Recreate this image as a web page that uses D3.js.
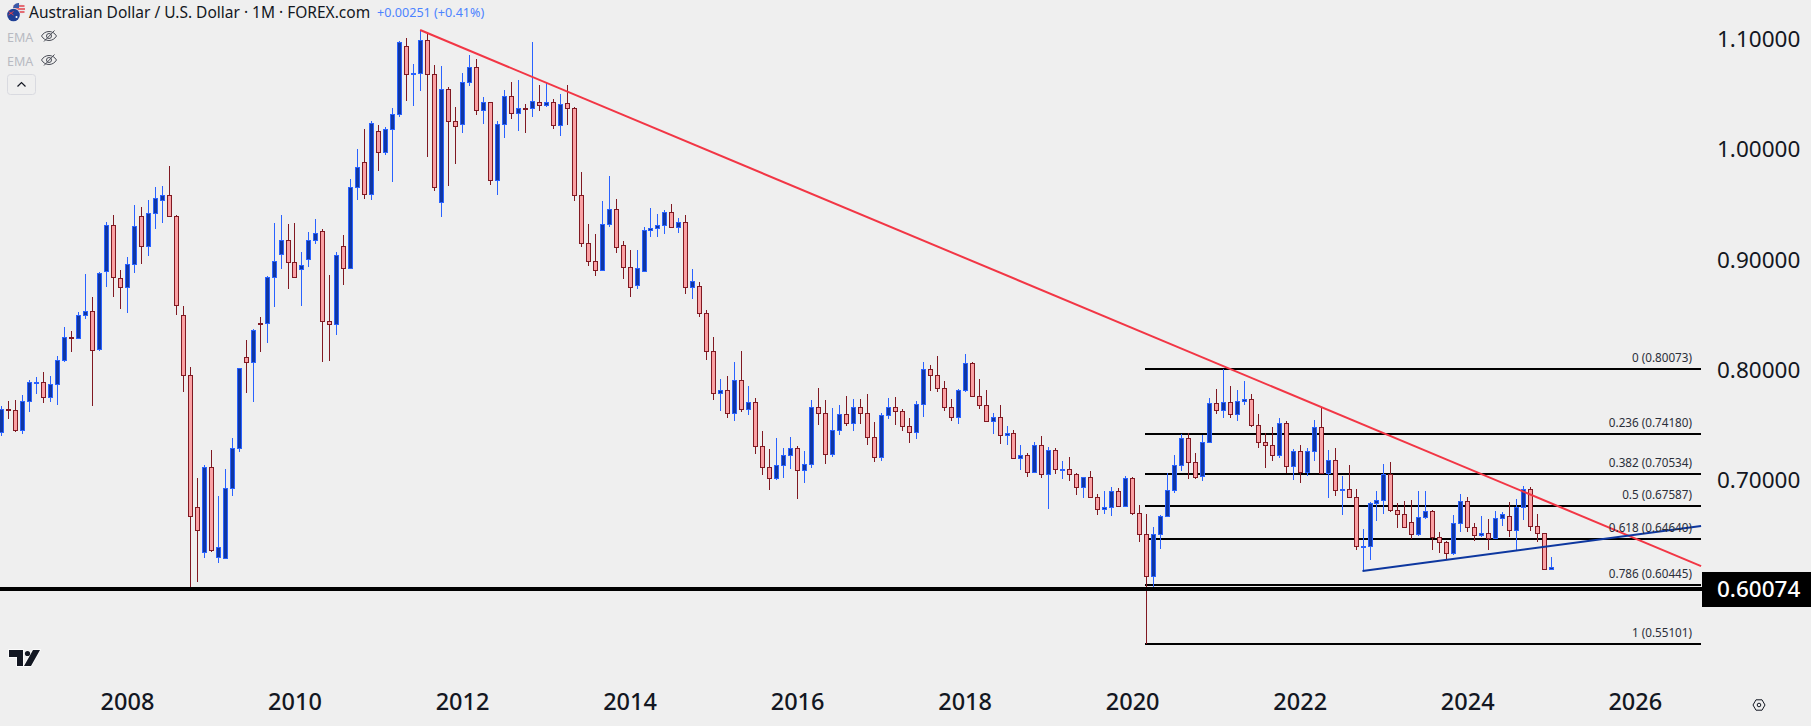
<!DOCTYPE html>
<html>
<head>
<meta charset="utf-8">
<script src="https://cdn.jsdelivr.net/npm/d3@7/dist/d3.min.js"></script>
<style>
	html, body { margin: 0; padding: 0; background: #efefef; overflow: hidden; }
	svg { display: block; font-family: "Noto Sans", sans-serif; }
</style>
</head>
<body>
<svg id="chart" width="1811" height="726"></svg>
<script>
// Monthly candles, Jul 2006 to Jan 2025
const opens = [
	.7435,.7647,.7632,.7450,.7713,.7883,.7886,.7750,.7868,.8092,.8295,.8286,
	.8495,.8532,.8186,.8895,.9313,.8832,.8750,.8959,.9395,.9122,.9422,.9541,
	.9586,.9395,.8495,.7950,.6750,.6341,.7113,.6295,.6286,.6922,.7286,.8113,
	.8068,.8422,.8422,.8841,.9050,.9177,.8977,.8913,.9004,.9177,.9259,.8441,
	.8413,.9122,.8922,.9659,.9886,.9595,1.0168,.9977,1.0186,1.0322,1.0941,1.0695,
	1.0695,1.0995,1.0686,.9522,1.0550,1.0259,1.0232,1.0613,1.0750,1.0359,1.0432,.9722,
	1.0232,1.0486,1.0332,1.0377,1.0377,1.0432,1.0404,1.0432,1.0222,1.0422,1.0377,.9586,
	.9150,.8986,.8904,.9322,.9458,.9131,.8931,.8768,.8895,.9268,.9286,.9313,
	.9431,.9295,.9340,.8749,.8758,.8513,.8168,.7786,.7813,.7604,.7904,.7640,
	.7704,.7304,.7113,.7013,.7131,.7222,.7286,.7086,.7140,.7658,.7604,.7231,
	.7449,.7595,.7513,.7658,.7604,.7386,.7204,.7586,.7659,.7623,.7486,.7432,
	.7686,.8004,.7950,.7832,.7659,.7568,.7813,.8059,.7759,.7677,.7532,.7568,
	.7404,.7423,.7195,.7223,.7068,.7313,.7050,.7268,.7092,.7095,.7050,.6932,
	.7023,.6841,.6732,.6750,.6895,.6759,.7013,.6695,.6504,.6123,.6504,.6668,
	.6904,.7132,.7377,.7159,.7032,.7341,.7695,.7632,.7704,.7595,.7713,.7732,
	.7495,.7341,.7313,.7222,.7513,.7122,.7259,.7068,.7259,.7477,.7059,.7177,
	.6910,.6913,.6841,.6392,.6395,.6786,.6814,.7050,.6723,.6686,.6614,.6504,
	.6659,.6714,.6477,.6432,.6332,.6604,.6804,.6568,.6495,.6514,.6468,.6650,
	.6668,.6541,.6750,.6914,.6577,.6514,.6186
]
const highs = [
	.7671,.7716,.7725,.7771,.7907,.7935,.7980,.7944,.8125,.8389,.8353,.8525,
	.8871,.8662,.8886,.9344,.9407,.8907,.9025,.9498,.9480,.9544,.9662,.9671,
	.9853,.9404,.8580,.8025,.7016,.7135,.7271,.6853,.7098,.7380,.8013,.8271,
	.8371,.8480,.8853,.9335,.9407,.9325,.9335,.9068,.9253,.9371,.9277,.8862,
	.9068,.9225,.9735,1.0007,1.0189,1.0262,1.0225,1.0207,1.0380,1.0989,1.1016,1.0780,
	1.1089,1.1068,1.0771,1.0762,1.0568,1.0389,1.0698,1.0862,1.0825,1.0480,1.0432,1.0259,
	1.0544,1.0616,1.0635,1.0416,1.0980,1.0589,1.0604,1.0459,1.0507,1.0589,1.0386,.9798,
	.9325,.9234,.9534,.9761,.9552,.9171,.9089,.9089,.9298,.9471,.9416,.9452,
	.9507,.9380,.9407,.8916,.8798,.8540,.8298,.7916,.7943,.8071,.8168,.7852,
	.7740,.7443,.7280,.7380,.7289,.7389,.7307,.7261,.7725,.7834,.7725,.7652,
	.7680,.7761,.7734,.7734,.7780,.7525,.7607,.7744,.7753,.7641,.7559,.7713,
	.8071,.8044,.8126,.7898,.7732,.7823,.8144,.8071,.7916,.7816,.7607,.7680,
	.7489,.7453,.7316,.7241,.7344,.7398,.7298,.7289,.7171,.7207,.7059,.7023,
	.7080,.6868,.6898,.6935,.6923,.7035,.7026,.6771,.6689,.6571,.6680,.7062,
	.7225,.7413,.7422,.7244,.7407,.7744,.7825,.8007,.7853,.7816,.7898,.7780,
	.7598,.7425,.7480,.7562,.7535,.7280,.7316,.7289,.7544,.7659,.7271,.7289,
	.7035,.7135,.6914,.6553,.6795,.6898,.7144,.7162,.6786,.6807,.6814,.6898,
	.6898,.6726,.6523,.6441,.6680,.6871,.6844,.6604,.6671,.6641,.6717,.6707,
	.6798,.6823,.6944,.6935,.6689,.6514,.6298
]
const lows = [
	.7401,.7556,.7435,.7419,.7619,.7783,.7701,.7710,.7683,.8074,.8165,.8286,
	.8465,.7674,.8174,.8756,.8665,.8556,.8519,.8883,.8965,.9038,.9283,.9338,
	.9395,.8501,.7801,.6008,.6074,.6292,.6347,.6247,.6286,.6856,.7256,.7792,
	.7710,.8165,.8247,.8574,.8919,.8738,.8841,.8583,.8938,.9147,.8074,.8083,
	.8319,.8774,.8922,.9547,.9556,.9547,.9810,.9956,.9710,1.0301,1.0447,1.0401,
	1.0538,.9938,.9628,.9392,.9674,.9874,1.0156,1.0583,1.0319,1.0238,.9683,.9592,
	1.0110,1.0283,1.0174,1.0156,1.0301,1.0356,1.0392,1.0192,1.0128,1.0228,.9538,.9119,
	.8947,.8855,.8904,.9301,.9064,.8828,.8664,.8737,.8895,.9210,.9210,.9237,
	.9295,.9246,.8692,.8646,.8483,.8092,.7728,.7628,.7564,.7537,.7619,.7592,
	.7237,.7046,.6910,.7001,.7019,.7101,.6828,.6974,.7110,.7501,.7146,.7210,
	.7410,.7492,.7446,.7510,.7319,.7164,.7174,.7556,.7501,.7447,.7338,.7374,
	.7574,.7810,.7801,.7629,.7538,.7510,.7801,.7759,.7647,.7532,.7419,.7329,
	.7319,.7186,.7092,.7029,.7068,.7019,.6738,.7053,.7010,.6992,.6865,.6838,
	.6841,.6683,.6692,.6674,.6759,.6759,.6683,.6438,.5510,.5986,.6374,.6659,
	.6883,.7083,.7010,.7010,.6992,.7341,.7601,.7565,.7565,.7538,.7683,.7483,
	.7292,.7110,.7174,.7201,.7059,.7001,.6974,.7038,.7174,.7059,.6838,.6856,
	.6683,.6841,.6365,.6177,.6274,.6629,.6692,.6704,.6562,.6568,.6462,.6492,
	.6641,.6365,.6338,.6277,.6320,.6529,.6529,.6447,.6483,.6365,.6468,.6583,
	.6483,.6350,.6632,.6538,.6438,.6186,.6186
]
const closes = [
	.7647,.7632,.7450,.7713,.7886,.7886,.7750,.7868,.8086,.8295,.8292,.8495,
	.8532,.8177,.8877,.9313,.8841,.8750,.8959,.9304,.9122,.9422,.9559,.9586,
	.9395,.8586,.7950,.6668,.6541,.7113,.6359,.6386,.6922,.7286,.8013,.8068,
	.8359,.8419,.8841,.8986,.9177,.8977,.8841,.8950,.9177,.9241,.8441,.8413,
	.9041,.8922,.9659,.9841,.9595,1.0241,.9977,1.0186,1.0322,1.0977,1.0686,1.0698,
	1.0995,1.0686,.9659,1.0550,1.0259,1.0213,1.0613,1.0750,1.0359,1.0432,.9722,1.0232,
	1.0486,1.0332,1.0377,1.0374,1.0441,1.0404,1.0432,1.0222,1.0413,1.0377,.9586,.9150,
	.8986,.8904,.9322,.9458,.9113,.8931,.8749,.8922,.9268,.9286,.9313,.9431,
	.9295,.9340,.8749,.8804,.8513,.8168,.7786,.7813,.7604,.7904,.7640,.7704,
	.7304,.7113,.7013,.7131,.7222,.7286,.7086,.7140,.7658,.7604,.7231,.7449,
	.7595,.7513,.7658,.7604,.7386,.7204,.7586,.7659,.7623,.7486,.7432,.7686,
	.8004,.7950,.7832,.7659,.7568,.7813,.8059,.7759,.7677,.7532,.7568,.7404,
	.7423,.7195,.7223,.7068,.7313,.7050,.7268,.7095,.7095,.7050,.6932,.7023,
	.6841,.6732,.6750,.6895,.6759,.7013,.6695,.6504,.6123,.6504,.6668,.6904,
	.7132,.7377,.7159,.7022,.7341,.7695,.7632,.7704,.7595,.7713,.7732,.7495,
	.7341,.7313,.7222,.7513,.7122,.7259,.7068,.7259,.7477,.7059,.7177,.6904,
	.6913,.6841,.6395,.6395,.6786,.6814,.7050,.6723,.6686,.6568,.6504,.6659,
	.6714,.6477,.6432,.6332,.6604,.6804,.6568,.6495,.6514,.6468,.6650,.6686,
	.6541,.6750,.6914,.6577,.6514,.6186,.6210
]

const yearLabels = ['2008', '2010', '2012', '2014', '2016', '2018', '2020', '2022', '2024', '2026']
const yearBars = [18, 42, 66, 90, 114, 138, 162, 186, 210, 234]
const priceTicks = [1.1, 1.0, 0.9, 0.8, 0.7]

const fibLevels = ['0', '0.236', '0.382', '0.5', '0.618', '0.786', '1']
const fibPrices = [0.80073, 0.7418, 0.70534, 0.67587, 0.6464, 0.60445, 0.55101]
const fibStartBar = 164

const supportPrice = 0.60074
const redTrendBars = [60, 243.5]
const redTrendPrices = [1.1089, 0.6216]
const blueTrendBars = [195, 243.5]
const blueTrendPrices = [0.6172, 0.658]

const title = 'Australian Dollar / U.S. Dollar · 1M · FOREX.com'
const changeText = '+0.00251 (+0.41%)'

const upBorder = '#2962ff', upFill = '#0f36a3'
const downBorder = '#801922', downFill = '#faa1a4'
const plotRight = 1702

const svg = d3.select('#chart')

const x = d3.scaleLinear().domain([0, 222]).range([1.3, 1551])
const y = d3.scaleLinear().domain([0.55101, 0.80073]).range([643.7, 369])

// Price axis
const yAxis = svg.append('g')
	.attr('transform', `translate(${plotRight}, 0)`)
	.call(d3.axisRight(y).tickValues(priceTicks).tickSize(0).tickPadding(15).tickFormat(d3.format('.5f')))
yAxis.select('.domain').remove()
yAxis.selectAll('text')
	.attr('fill', '#131722')
	.attr('font-size', 22.5)
	.attr('font-family', '"Noto Sans", sans-serif')

// Time axis
const xAxis = svg.append('g')
	.attr('transform', 'translate(0, 678)')
	.call(d3.axisBottom(x).tickValues(yearBars).tickSize(0).tickPadding(15).tickFormat((d, i) => yearLabels[i]))
xAxis.select('.domain').remove()
xAxis.selectAll('text')
	.attr('fill', '#131722')
	.attr('font-size', 23.5)
	.attr('font-weight', 500)
	.attr('font-family', '"Noto Sans", sans-serif')

// Fib levels
const fibs = svg.append('g')
fibs.selectAll('line')
	.data(fibPrices)
	.enter()
	.append('line')
	.attr('x1', x(fibStartBar) - 1)
	.attr('x2', plotRight - 1)
	.attr('y1', (d) => Math.round(y(d)))
	.attr('y2', (d) => Math.round(y(d)))
	.attr('stroke', '#000')
	.attr('stroke-width', 2)
	.attr('shape-rendering', 'crispEdges')

// Candles
const candles = svg.append('g')
	.selectAll('g')
	.data(d3.range(opens.length))
	.enter()
	.append('g')
	.attr('transform', (i) => `translate(${Math.round(x(i))}, 0)`)
	.attr('shape-rendering', 'crispEdges')

candles.append('line')
	.attr('x1', 0.5)
	.attr('x2', 0.5)
	.attr('y1', (i) => y(highs[i]))
	.attr('y2', (i) => y(lows[i]))
	.attr('stroke', (i) => closes[i] >= opens[i] ? upBorder : downBorder)

candles.append('rect')
	.attr('x', -1.5)
	.attr('width', 4)
	.attr('y', (i) => Math.round(y(Math.max(opens[i], closes[i]))) + 0.5)
	.attr('height', (i) => Math.max(1, Math.round(y(Math.min(opens[i], closes[i]))) - Math.round(y(Math.max(opens[i], closes[i])))))
	.attr('fill', (i) => closes[i] >= opens[i] ? upFill : downFill)
	.attr('stroke', (i) => closes[i] >= opens[i] ? upBorder : downBorder)

// Support line
svg.append('rect')
	.attr('x', 0)
	.attr('width', plotRight)
	.attr('y', y(supportPrice) - 2)
	.attr('height', 4)
	.attr('fill', '#000')

// Trend lines
svg.append('line')
	.attr('x1', x(redTrendBars[0]))
	.attr('y1', y(redTrendPrices[0]))
	.attr('x2', x(redTrendBars[1]))
	.attr('y2', y(redTrendPrices[1]))
	.attr('stroke', '#f23645')
	.attr('stroke-width', 2)
svg.append('line')
	.attr('x1', x(blueTrendBars[0]))
	.attr('y1', y(blueTrendPrices[0]))
	.attr('x2', x(blueTrendBars[1]))
	.attr('y2', y(blueTrendPrices[1]))
	.attr('stroke', '#0d379f')
	.attr('stroke-width', 2)

// Fib labels
svg.append('g')
	.selectAll('text')
	.data(fibPrices)
	.enter()
	.append('text')
	.attr('x', 1692)
	.attr('y', (d) => y(d) - 7)
	.attr('text-anchor', 'end')
	.attr('font-size', 11.7)
	.attr('fill', '#2a2e39')
	.text((d, i) => `${fibLevels[i]} (${d.toFixed(5)})`)

// Last price tag
svg.append('rect')
	.attr('x', plotRight)
	.attr('y', y(supportPrice) - 17)
	.attr('width', 1811 - plotRight)
	.attr('height', 35)
	.attr('fill', '#000')
svg.append('text')
	.attr('x', plotRight + 15)
	.attr('y', y(supportPrice) + 8.5)
	.attr('fill', '#fff')
	.attr('font-size', 22.5)
	.attr('font-weight', 500)
	.text(supportPrice.toFixed(5))

// Header
svg.append('text').attr('x', 29).attr('y', 18).attr('font-size', 15.5).attr('fill', '#131722').text(title)
svg.append('text').attr('x', 377).attr('y', 17).attr('font-size', 12.6).attr('fill', '#4c83ff').text(changeText)

const flag = svg.append('g')
flag.append('circle').attr('cx', 19).attr('cy', 9).attr('r', 6).attr('fill', '#e8e8ec')
flag.append('path').attr('d', 'M13.5 6h11M13 9h12M13.5 12h11').attr('stroke', '#e2434b').attr('stroke-width', 1.3)
flag.append('path').attr('d', 'M14 5a6 6 0 0 1 5-2v5h-6z').attr('fill', '#3b5aa8')
flag.append('circle').attr('cx', 13.5).attr('cy', 15).attr('r', 7).attr('fill', '#efefef')
flag.append('circle').attr('cx', 13.5).attr('cy', 15).attr('r', 6.3).attr('fill', '#1f3f95')
flag.append('path').attr('d', 'M8.5 11.5l5 3.5M13.5 11.5l-5 3.5').attr('stroke', '#e2434b').attr('stroke-width', 1)
flag.append('circle').attr('cx', 16.5).attr('cy', 17).attr('r', 1).attr('fill', '#fff')

const emaRows = [37, 61]
emaRows.forEach((cy) => {
	svg.append('text').attr('x', 7).attr('y', cy + 5).attr('font-size', 12.5).attr('fill', '#b8bac2').text('EMA')
	const eye = svg.append('g')
		.attr('transform', `translate(49, ${cy - 1})`)
		.attr('fill', 'none')
		.attr('stroke', '#4a4d57')
		.attr('stroke-width', 1)
	eye.append('path').attr('d', 'M-7.5 0C-4 -6 4 -6 7.5 0C4 6 -4 6 -7.5 0Z')
	eye.append('circle').attr('r', 2.5)
	eye.append('path').attr('d', 'M-5 5.5L5.5 -5.5')
})
svg.append('rect')
	.attr('x', 7.5).attr('y', 74.5).attr('width', 28).attr('height', 20).attr('rx', 3)
	.attr('fill', 'none').attr('stroke', '#d9dae0')
svg.append('path')
	.attr('d', 'M17.5 86.5L21.5 82.5L25.5 86.5')
	.attr('fill', 'none').attr('stroke', '#131722').attr('stroke-width', 1.2)

// Watermark logo
const logo = svg.append('g').attr('transform', 'translate(9, 649)')
logo.append('path')
	.attr('d', 'M0 1H14V17H8V8H0Z M22 17H15L24 1H31Z')
	.attr('fill', '#131722')
	.attr('stroke', '#fff')
	.attr('stroke-width', 1.5)
	.attr('paint-order', 'stroke')
logo.append('circle').attr('cx', 18.5).attr('cy', 4.5).attr('r', 2.6).attr('fill', '#131722')

// Settings glyph
svg.append('path')
	.attr('d', 'M1753 705l3 -5.2h6l3 5.2l-3 5.2h-6z')
	.attr('fill', 'none').attr('stroke', '#131722').attr('stroke-width', 1)
svg.append('circle').attr('cx', 1759).attr('cy', 705).attr('r', 1.8)
	.attr('fill', 'none').attr('stroke', '#131722').attr('stroke-width', 1)
</script>
</body>
</html>
